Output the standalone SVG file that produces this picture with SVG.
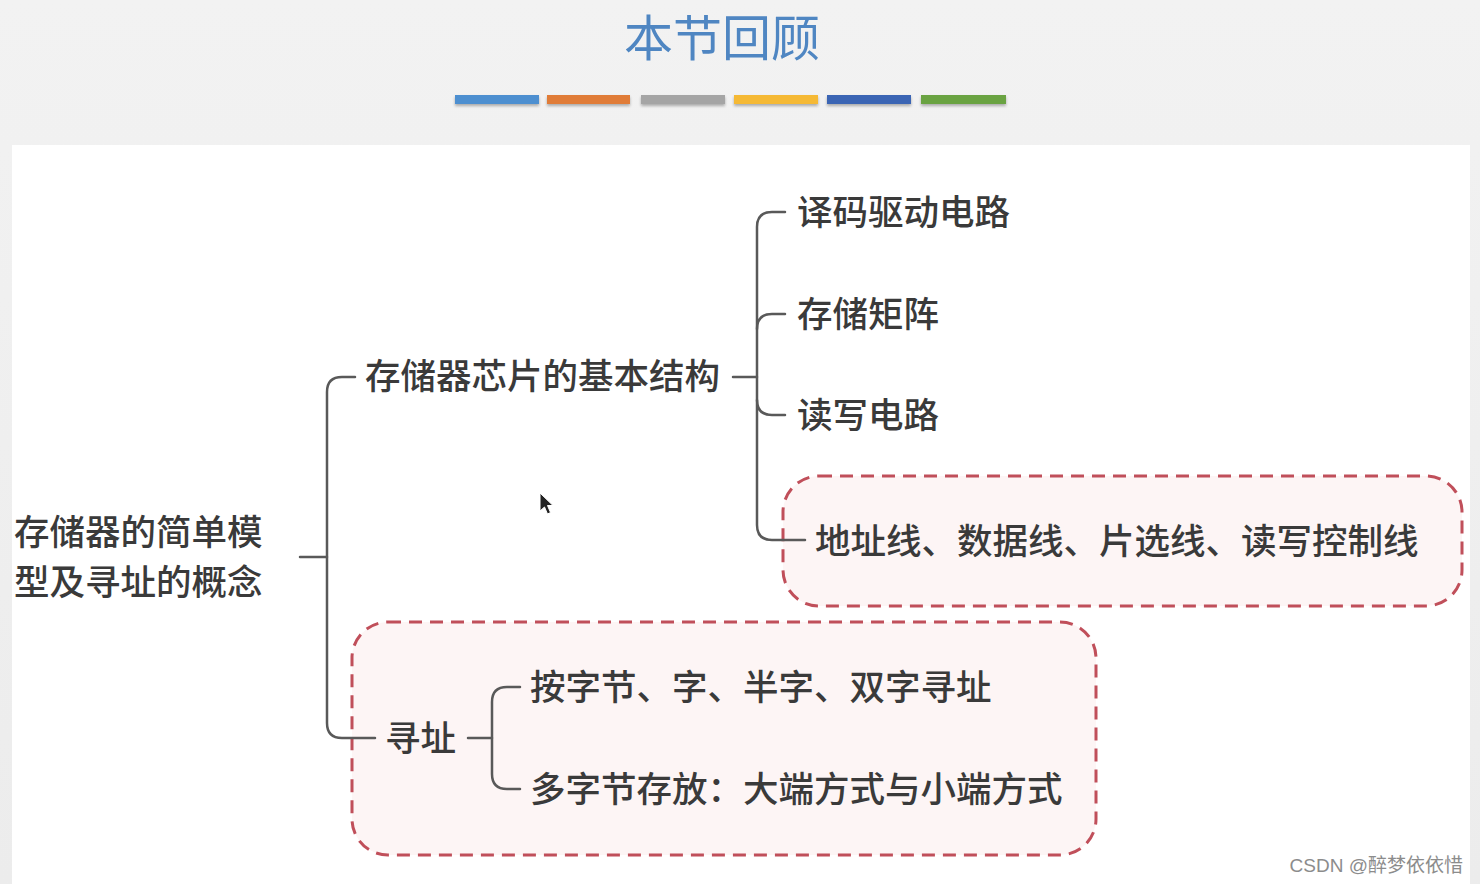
<svg xmlns="http://www.w3.org/2000/svg" width="1480" height="884" viewBox="0 0 1480 884">
<defs>
<style>
.t{font-family:"Noto Sans CJK SC","Noto Sans",sans-serif;font-size:35.5px;font-weight:500;fill:#3a3a3a;dominant-baseline:central}
.c{fill:none;stroke:#595959;stroke-width:2.5;stroke-linecap:round}
.box{fill:#fdf5f5;stroke:#c04f5a;stroke-width:3;stroke-dasharray:13 8}
.bar{stroke:none}
</style>
<linearGradient id="bg" x1="0" y1="0" x2="0" y2="1">
<stop offset="0" stop-color="#f2f2f2"/>
<stop offset="1" stop-color="#ececec"/>
</linearGradient>
<filter id="sh" x="-5%" y="-50%" width="110%" height="250%">
<feGaussianBlur in="SourceAlpha" stdDeviation="1.5"/>
<feOffset dy="2"/>
<feComponentTransfer><feFuncA type="linear" slope="0.3"/></feComponentTransfer>
<feMerge><feMergeNode/><feMergeNode in="SourceGraphic"/></feMerge>
</filter>
</defs>
<rect x="0" y="0" width="1480" height="884" fill="url(#bg)"/>
<rect x="12" y="145" width="1458" height="739" fill="#ffffff"/>
<g id="title">
<text x="722" y="34" text-anchor="middle" style="font-family:'Noto Sans CJK SC',sans-serif;font-size:49px;fill:#4f86c2;dominant-baseline:central">本节回顾</text>
<g filter="url(#sh)">
<rect class="bar" x="455" y="95" width="84" height="9" fill="#4e8fd0"/>
<rect class="bar" x="547" y="95" width="83" height="9" fill="#e07b39"/>
<rect class="bar" x="641" y="95" width="84" height="9" fill="#a5a5a5"/>
<rect class="bar" x="734" y="95" width="84" height="9" fill="#f5b935"/>
<rect class="bar" x="827" y="95" width="84" height="9" fill="#3b65b4"/>
<rect class="bar" x="921" y="95" width="85" height="9" fill="#6aa342"/>
</g>
</g>
<g id="highlight-boxes">
<rect id="box-lines" class="box" x="783" y="476" width="679" height="130" rx="36"/>
<rect id="box-addr" class="box" x="352" y="622" width="744" height="233" rx="36"/>
</g>
<g id="connectors">
<path class="c" d="M300,557 H327"/>
<path class="c" d="M355,377 H342 Q327,377 327,392 V723 Q327,738 342,738 H375"/>
<path class="c" d="M733,377 H757"/>
<path class="c" d="M785,212 H772 Q757,212 757,227 V525 Q757,540 772,540 H805"/>
<path class="c" d="M757,329 Q757,314 772,314 H785"/>
<path class="c" d="M757,400 Q757,415 772,415 H785"/>
<path class="c" d="M468,738 H492"/>
<path class="c" d="M520,687 H507 Q492,687 492,702 V774 Q492,789 507,789 H520"/>
</g>
<g id="node-root">
<text class="t" x="14" y="529">存储器的简单模</text>
<text class="t" x="14" y="579">型及寻址的概念</text>
</g>
<g id="node-structure"><text class="t" x="365" y="373">存储器芯片的基本结构</text></g>
<g id="node-decode"><text class="t" x="797" y="209">译码驱动电路</text></g>
<g id="node-matrix"><text class="t" x="797" y="311">存储矩阵</text></g>
<g id="node-rw"><text class="t" x="797" y="412">读写电路</text></g>
<g id="node-lines"><text class="t" x="815" y="538">地址线、数据线、片选线、读写控制线</text></g>
<g id="node-addr"><text class="t" x="385" y="735">寻址</text></g>
<g id="node-byte"><text class="t" x="530" y="684">按字节、字、半字、双字寻址</text></g>
<g id="node-endian"><text class="t" x="530" y="786">多字节存放：大端方式与小端方式</text></g>
<path id="cursor" d="M540,493 L540,511 L544.5,507 L547.5,514 L550.5,512.5 L547.5,505.5 L553,505.5 Z" fill="#222" stroke="#fff" stroke-width="1"/>
<text x="1463" y="865" text-anchor="end" style="font-family:'Liberation Sans','Noto Sans CJK SC',sans-serif;font-size:19px;fill:#8c8c8c;dominant-baseline:central">CSDN @醉梦依依惜</text>
</svg>
